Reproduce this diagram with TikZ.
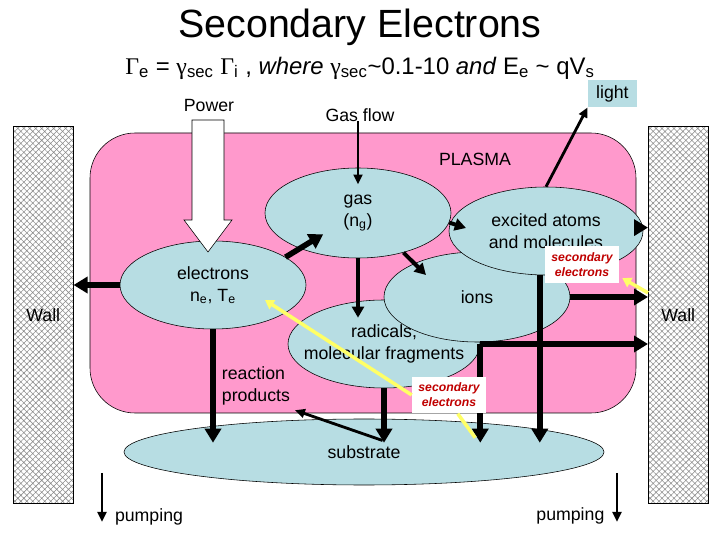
\documentclass[tikz,border=0pt]{standalone}
\usepackage{fontspec}
\setmainfont{Liberation Sans}
\newfontfamily\symf{Liberation Serif}
\usepackage{xcolor}
\usetikzlibrary{positioning,calc,arrows.meta,patterns.meta,shapes.geometric}
\definecolor{PPink}{HTML}{FF99CC}
\definecolor{PBlue}{HTML}{B7DDE3}
\definecolor{PYellow}{HTML}{FFFF66}
\definecolor{PRed}{HTML}{C00000}
\definecolor{PHatch}{HTML}{8C8C8C}
\newcommand\lblfont{\fontsize{12.6}{15.6}\selectfont}
\newcommand\secfont{\fontsize{8.7}{10.6}\selectfont\bfseries\itshape}

\begin{document}
\begin{tikzpicture}[every node/.style={align=center},
  lbl/.style={font=\lblfont},
  blob/.style={ellipse, draw, fill=PBlue, inner sep=0pt},
  wallbox/.style={draw, inner sep=0pt, anchor=south west, minimum width=1.5cm, minimum height=9.425cm,
    pattern={Hatch[angle=45,distance=3pt,line width=0.4pt]}, pattern color=PHatch},
  secbox/.style={fill=white, inner sep=0pt, minimum width=1.85cm, minimum height=0.92cm, font=\secfont, text=PRed},
  bigarr/.style={line width=4pt, -{Triangle[length=0.35cm,width=0.4cm]}},
  medarr/.style={line width=2.8pt, -{Triangle[length=0.28cm,width=0.3cm]}},
  thinarr/.style={line width=2pt, -{Triangle[length=0.25cm,width=0.22cm]}},
  yelline/.style={line width=2.5pt, draw=PYellow},
  yelarr/.style={yelline, -{Triangle[length=0.22cm,width=0.26cm]}}]
\useasboundingbox (0,0) rectangle (18,13.5);
% title
\node[font=\fontsize{28}{32}\selectfont] (title) at (9,12.825) {Secondary Electrons};
\node[font=\fontsize{17}{20}\selectfont] (eqn) at (9,11.8)
  {{\symf Γ}\textsubscript{e} = {\symf γ}\textsubscript{sec} {\symf Γ}\textsubscript{i} , \textit{where}
   {\symf γ}\textsubscript{sec}\textasciitilde0.1-10 \textit{and} E\textsubscript{e} \textasciitilde{} qV\textsubscript{s}};
% walls
\node[wallbox] (wallL) at (0.325,0.9) {};
\node[wallbox] (wallR) at (16.2,0.9) {};
\node[lbl] at (wallL) {Wall};
\node[lbl] at (wallR) {Wall};
% plasma
\draw[fill=PPink, rounded corners=1.125cm] (2.25,3.175) rectangle (15.9,10.175);
\node[lbl] (plasma) at (11.875,9.525) {PLASMA};
% species
\foreach \nm/\x/\y/\w/\h in {%
  sub/9.1/2.2/12/1.65,
  rad/9.6/4.9/4.8/2.2,
  ions/11.925/6.075/4.65/2.25,
  exc/13.65/7.725/4.85/2.2,
  gas/8.95/8.175/4.65/2.25,
  elec/5.325/6.375/4.65/2.2}{
  \node[blob, minimum width=\w cm, minimum height=\h cm] (\nm) at (\x,\y) {};
}
\node[lbl] (sublbl) at (sub) {substrate};
\node[lbl] at (rad) {radicals,\\molecular fragments};
\node[lbl] at (ions) {ions};
\node[lbl] at (exc) {excited atoms\\and molecules};
\node[lbl] at (gas) {gas\\(n\textsubscript{g})};
\node[lbl] at (elec) {electrons\\n\textsubscript{e}, T\textsubscript{e}};
\node[lbl, align=left, anchor=west] (react) at (5.425,3.85) {reaction\\products};
\coordinate (subtip) at ($(sub.north)+(0,-0.6)$);
% inputs
\node[lbl] (power) at (5.225,10.875) {Power};
\draw[fill=white] (4.8,10.5) -- (5.6,10.5) -- (5.6,8.0) -- (5.8,8.0) -- (5.2,7.2) -- (4.6,8.0) -- (4.8,8.0) -- cycle;
\node[lbl] (gflow) at (9.0,10.625) {Gas flow};
\draw[thinarr] (gflow.base -| gas.north) -- ($(gas.north)+(0,-0.42)$);
\node[lbl, fill=PBlue, inner sep=0pt, minimum width=1.225cm, minimum height=0.675cm] (light) at (15.31,11.16) {light};
\draw[thinarr] (exc.north) -- (light.south west);
% reactions
\draw[bigarr] (elec.21) -- ($(elec.21)!0.52!(gas.center)$);
\draw[bigarr] (elec.west) -- (elec.west -| wallL.east);
\draw[medarr] (gas.-6) -- ($(exc.center)+(-2.0,0.075)$);
\draw[medarr] (gas.-41) -- ($(ions.center)+(-1.275,0.55)$);
\draw[medarr] (gas.south) -- ($(gas.south |- rad.north)+(0,-0.45)$);
\draw[bigarr] (exc.2) -- (exc.2 -| wallR.west);
\draw[bigarr] (ions.east) -- (ions.east -| wallR.west);
\draw[bigarr] (exc.-98) -- (exc.-98 |- subtip);
\draw[bigarr] (rad.east) -- (rad.east -| wallR.west);
\draw[bigarr] (rad.east) -- (rad.east |- subtip);
\draw[bigarr] (rad.south) -- (rad.south |- subtip);
\draw[bigarr] (elec.south) -- (elec.south |- subtip);
\draw[thinarr] ($(sublbl.north)!0.45!(sublbl.north east)$) -- (react.south east);
% secondary electrons
\node[secbox] (sec1) at (14.55,6.8875) {secondary\\electrons};
\node[secbox] (sec2) at (11.225,3.625) {secondary\\electrons};
\draw[yelarr] (sec2.west) -- ($(elec.center)+(1.3,-0.375)$);
\draw[yelline] (sec2.-65) -- ($(rad.east |- subtip)+(-0.125,0.125)$);
\draw[yelarr] ($(wallR.west)+(0,0.56)$) -- ($(sec1.south east)+(0.075,0.125)$);
% pumping
\node[lbl] (pumpL) at (3.725,0.575) {pumping};
\node[lbl] (pumpR) at (14.26,0.6) {pumping};
\coordinate (pumpLtop) at (2.55,1.675);
\coordinate (pumpRtop) at (15.425,1.675);
\draw[thinarr] (pumpLtop) -- ++(0,-1.225);
\draw[thinarr] (pumpRtop) -- ++(0,-1.225);
\end{tikzpicture}
\end{document}
